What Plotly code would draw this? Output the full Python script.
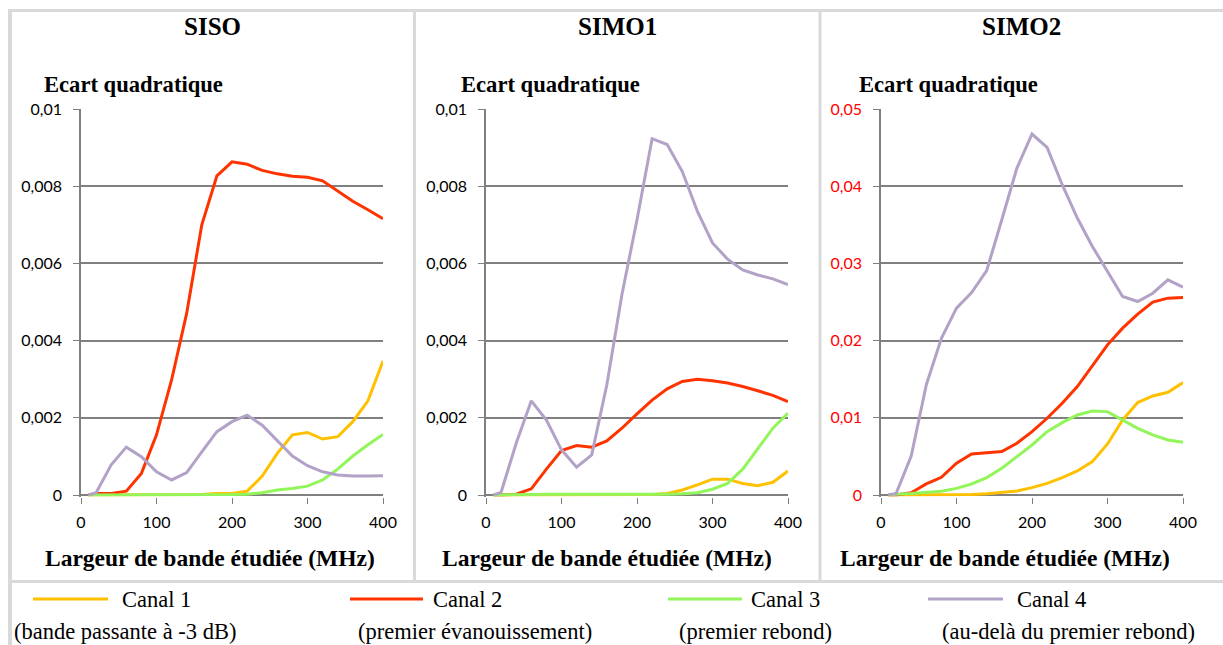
import plotly.graph_objects as go

# Bandwidth studied (MHz)
bandwidth = [10, 20, 40, 60, 80, 100, 120, 140, 160, 180, 200,
             220, 240, 260, 280, 300, 320, 340, 360, 380, 400]

# SISO
siso_c1 = [0, 0, 0, 0, 0, 0.00001, 0, 0, 0.00001, 0.00004, 0.00004,
           0.0001, 0.00049, 0.00108, 0.00156, 0.00162, 0.00145, 0.00151, 0.0019, 0.00244, 0.00347]
siso_c2 = [0, 0.00004, 0.00004, 0.0001, 0.00056, 0.00156, 0.00298, 0.00471, 0.0070, 0.00827, 0.00863,
           0.00857, 0.00841, 0.00832, 0.00826, 0.00823, 0.00814, 0.00788, 0.00761, 0.00739, 0.00716]
siso_c3 = [0, 0, 0, 0, 0, 0, 0, 0, 0, 0.00001, 0.00001,
           0.00002, 0.00006, 0.00013, 0.00017, 0.00023, 0.00039, 0.00067, 0.00101, 0.0013, 0.00157]
siso_c4 = [0, 0.00006, 0.00078, 0.00124, 0.00099, 0.0006, 0.00039, 0.00058, 0.00112, 0.00164, 0.0019,
           0.00207, 0.00181, 0.00141, 0.00101, 0.00076, 0.0006, 0.00052, 0.00049, 0.00049, 0.0005]

# SIMO1
simo1_c1 = [0, 0, 0, 0, 0, 0, 0, 0, 0, 0, 0,
            0.00001, 0.00004, 0.00013, 0.00026, 0.00041, 0.00041, 0.0003, 0.00024, 0.00033, 0.00062]
simo1_c2 = [0, 0, 0.00002, 0.00016, 0.00067, 0.00115, 0.00128, 0.00124, 0.0014, 0.00173, 0.0021,
            0.00246, 0.00275, 0.00294, 0.003, 0.00296, 0.0029, 0.00281, 0.0027, 0.00258, 0.00242]
simo1_c3 = [0, 0, 0, 0.00001, 0.00002, 0.00002, 0.00002, 0.00001, 0.00001, 0.00001, 0.00001,
            0.00001, 0.00002, 0.00003, 0.00006, 0.00015, 0.0003, 0.00067, 0.00121, 0.00173, 0.00212]
simo1_c4 = [0, 0.00007, 0.00134, 0.00244, 0.00194, 0.00117, 0.00072, 0.00104, 0.00285, 0.00519, 0.00713,
            0.00923, 0.00908, 0.00838, 0.00735, 0.00653, 0.00611, 0.00583, 0.0057, 0.0056, 0.00545]

# SIMO2
simo2_c1 = [0, 0, 0, 0, 0.00002, 0.00004, 0.00006, 0.00017, 0.0003, 0.00052, 0.00095,
            0.00151, 0.00225, 0.00311, 0.00432, 0.00661, 0.00972, 0.01197, 0.01283, 0.01331, 0.01456]
simo2_c2 = [0, 0, 0.0003, 0.00143, 0.00229, 0.00411, 0.00532, 0.00549, 0.00562, 0.0067, 0.00821,
            0.00994, 0.01188, 0.01404, 0.01677, 0.01945, 0.02161, 0.02342, 0.02498, 0.0255, 0.02558]
simo2_c3 = [0, 0.0001, 0.0002, 0.00035, 0.0005, 0.00086, 0.00143, 0.00225, 0.00346, 0.00497, 0.00648,
            0.00821, 0.00938, 0.01037, 0.01089, 0.0108, 0.00972, 0.00864, 0.00778, 0.00713, 0.00683]
simo2_c4 = [0, 0.0002, 0.00506, 0.01426, 0.02031, 0.0242, 0.02623, 0.02908, 0.03565, 0.04235, 0.04676,
            0.04503, 0.04019, 0.03587, 0.0322, 0.02887, 0.02571, 0.02506, 0.02614, 0.02787, 0.02692]

panel_titles = ["SISO", "SIMO1", "SIMO2"]
channel_names = ["Canal 1", "Canal 2", "Canal 3", "Canal 4"]
channel_notes = ["(bande passante à -3 dB)", "(premier évanouissement)",
                 "(premier rebond)", "(au-delà du premier rebond)"]
channel_colors = ["#FFC000", "#FF3300", "#92F55A", "#B3A2C7"]

x_ticks = [0, 100, 200, 300, 400]
x_ticktext = ["0", "100", "200", "300", "400"]
y_ticks_small = [0, 0.002, 0.004, 0.006, 0.008, 0.01]
y_ticktext_small = ["0", "0,002", "0,004", "0,006", "0,008", "0,01"]
y_ticks_large = [0, 0.01, 0.02, 0.03, 0.04, 0.05]
y_ticktext_large = ["0", "0,01", "0,02", "0,03", "0,04", "0,05"]

panels = [
    [siso_c1, siso_c2, siso_c3, siso_c4],
    [simo1_c1, simo1_c2, simo1_c3, simo1_c4],
    [simo2_c1, simo2_c2, simo2_c3, simo2_c4],
]

W, H = 1223, 645
GRID = "#808080"
BORDER = "#D9D9D9"
SERIF = "Liberation Serif"
SANS = "Lato"

# pixel geometry of the three plot areas
plot_left = [81, 486, 881]
plot_width = 302
plot_top, zero_y, plot_bottom = 109, 495, 496.5

fig = go.Figure()

for p, series in enumerate(panels):
    ax = "" if p == 0 else str(p + 1)
    for c, values in enumerate(series):
        fig.add_trace(go.Scatter(
            x=bandwidth, y=values, mode="lines", name=channel_names[c],
            line=dict(color=channel_colors[c], width=3),
            xaxis="x" + ax, yaxis="y" + ax, showlegend=False,
            hoverinfo="skip",
        ))

    ymax = 0.05 if p == 2 else 0.01
    yvals = y_ticks_large if p == 2 else y_ticks_small
    ytext = y_ticktext_large if p == 2 else y_ticktext_small
    per_px = ymax / (zero_y - plot_top)
    ymin = -(plot_bottom - zero_y) * per_px

    xdom = [plot_left[p] / W, (plot_left[p] + plot_width) / W]
    ydom = [(H - plot_bottom) / H, (H - plot_top) / H]

    fig.layout["xaxis" + ax] = dict(
        domain=xdom, range=[0, 400], anchor="y" + ax, automargin=False,
        tickvals=x_ticks, ticktext=x_ticktext,
        ticks="outside", ticklen=6, tickwidth=1.4, tickcolor=GRID,
        showgrid=False, zeroline=False, showline=False,
        tickfont=dict(family=SANS, size=16, color="black"),
        ticklabelstandoff=5,
        fixedrange=True,
    )
    fig.layout["yaxis" + ax] = dict(
        domain=ydom, range=[ymin, ymax], anchor="x" + ax, automargin=False,
        tickvals=yvals, ticktext=ytext,
        ticks="outside", ticklen=6, tickwidth=1.4, tickcolor=GRID,
        showgrid=True, gridcolor=GRID, gridwidth=1.5,
        zeroline=True, zerolinecolor=GRID, zerolinewidth=1.6,
        showline=True, linecolor=GRID, linewidth=1.5,
        tickfont=dict(family=SANS, size=16, color="#FF0000" if p == 2 else "black"),
        ticklabelstandoff=8,
        layer="below traces",
        fixedrange=True,
    )

annotations = []
title_x = [212, 617, 1021]
ylabel_x = [42, 459, 857]
xlabel_x = [210, 607, 1005]
for p in range(3):
    annotations.append(dict(
        text=panel_titles[p], x=title_x[p] / W, y=1 - 27 / H, xref="paper", yref="paper",
        xanchor="center", yanchor="middle", showarrow=False,
        font=dict(family=SERIF, size=25, color="black", weight="bold")))
    annotations.append(dict(
        text="Ecart quadratique", x=ylabel_x[p] / W, y=1 - 84 / H, xref="paper", yref="paper",
        xanchor="left", yanchor="middle", showarrow=False,
        font=dict(family=SERIF, size=22.6, color="black", weight="bold")))
    annotations.append(dict(
        text="Largeur de bande étudiée (MHz)", x=xlabel_x[p] / W, y=1 - 558 / H,
        xref="paper", yref="paper", xanchor="center", yanchor="middle", showarrow=False,
        font=dict(family=SERIF, size=23.5, color="black", weight="bold")))

# legend block under the panels
key_x = [(33, 108), (350, 423), (668, 742), (928, 1003)]
name_x = [120, 431, 749, 1015]
note_x = [12, 356, 677, 940]
shapes = []
for c in range(4):
    shapes.append(dict(type="line", xref="paper", yref="paper",
                       x0=key_x[c][0] / W, x1=key_x[c][1] / W,
                       y0=1 - 599 / H, y1=1 - 599 / H,
                       line=dict(color=channel_colors[c], width=3)))
    annotations.append(dict(
        text=channel_names[c], x=name_x[c] / W, y=1 - 599 / H, xref="paper", yref="paper",
        xanchor="left", yanchor="middle", showarrow=False,
        font=dict(family=SERIF, size=22.5, color="black")))
    annotations.append(dict(
        text=channel_notes[c], x=note_x[c] / W, y=1 - 631 / H, xref="paper", yref="paper",
        xanchor="left", yanchor="middle", showarrow=False,
        font=dict(family=SERIF, size=22.5, color="black")))

# frame lines
def px_line(x0, y0, x1, y1, w):
    return dict(type="line", xref="paper", yref="paper",
                x0=x0 / W, x1=x1 / W, y0=1 - y0 / H, y1=1 - y1 / H,
                line=dict(color=BORDER, width=w), layer="below")

shapes += [
    px_line(8, 10.5, W, 10.5, 3),
    px_line(10, 9, 10, H, 4),
    px_line(414.5, 10, 414.5, 582, 3),
    px_line(820, 10, 820, 582, 3),
    px_line(8, 581.5, W, 581.5, 3),
]

fig.update_layout(
    width=W, height=H,
    margin=dict(l=0, r=0, t=0, b=0, autoexpand=False),
    paper_bgcolor="white", plot_bgcolor="white",
    annotations=annotations, shapes=shapes,
    showlegend=False,
)

fig.write_html("out.html", config={"displayModeBar": False})
